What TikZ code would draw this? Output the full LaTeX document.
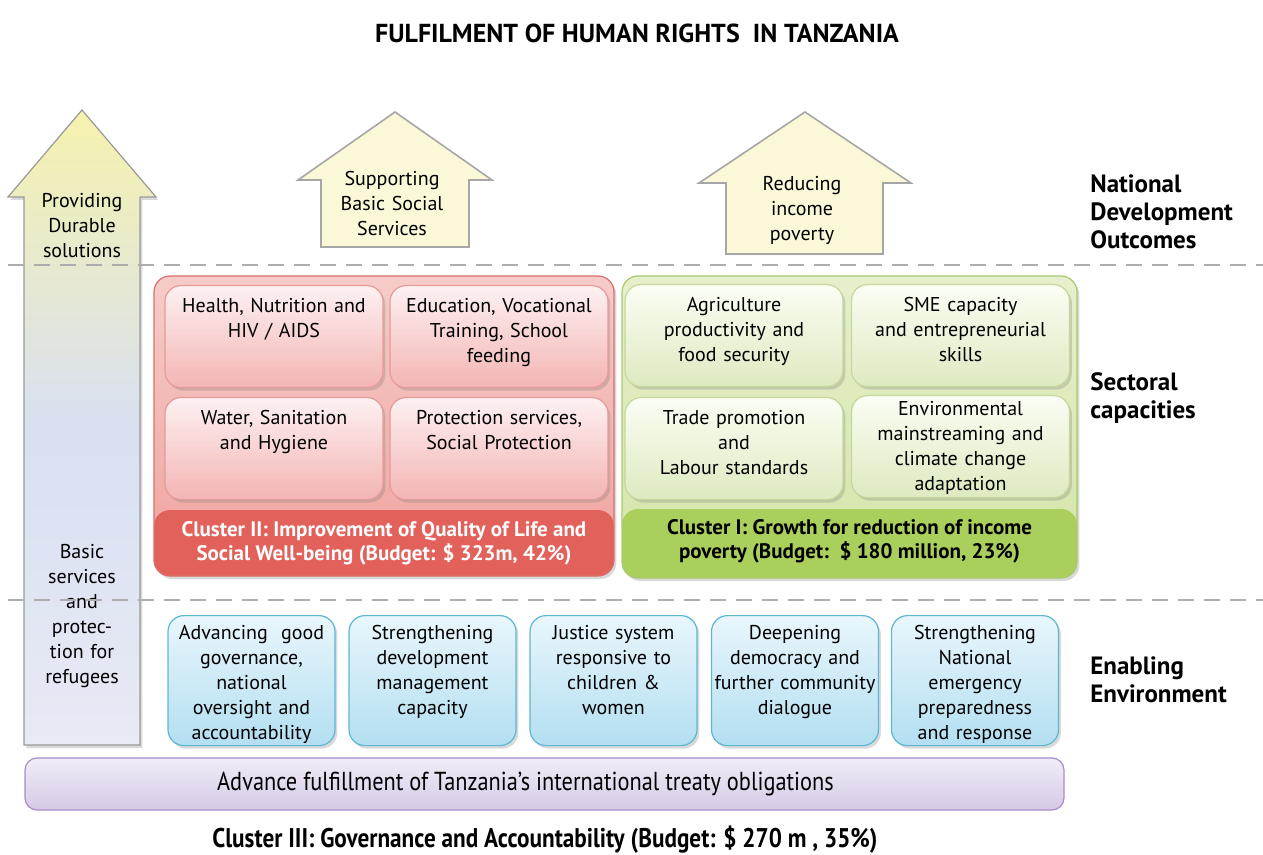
\documentclass[tikz,border=0pt]{standalone}
\usepackage{fontspec}
\setmainfont{PT Sans}
\newfontfamily\condfont[FakeStretch=0.86]{PT Sans}
\usetikzlibrary{positioning}
\usetikzlibrary{shadows}

\definecolor{clIIband}{HTML}{E2615A}
\definecolor{clIItop}{HTML}{F6CCC8}
\definecolor{clIIbot}{HTML}{EFA29D}
\definecolor{clIIline}{HTML}{D9706A}
\definecolor{cellIItop}{HTML}{FDF1F1}
\definecolor{cellIIbot}{HTML}{F4B4B4}
\definecolor{cellIIline}{HTML}{E59B99}
\definecolor{clIband}{HTML}{AACF5C}
\definecolor{clItop}{HTML}{E6EFCB}
\definecolor{clIbot}{HTML}{D3E5A8}
\definecolor{clIline}{HTML}{A9C870}
\definecolor{cellItop}{HTML}{FBFDF4}
\definecolor{cellIbot}{HTML}{DDEAC0}
\definecolor{cellIline}{HTML}{C3D89A}
\definecolor{envtop}{HTML}{E9F6FC}
\definecolor{envbot}{HTML}{B3DFF1}
\definecolor{envline}{HTML}{5DB7D3}
\definecolor{trtytop}{HTML}{F1EDF7}
\definecolor{trtybot}{HTML}{D6C9E6}
\definecolor{trtyline}{HTML}{A88DC8}
\definecolor{upfill}{HTML}{FBF8D8}
\definecolor{upline}{HTML}{A6A6A6}
\definecolor{sidetop}{HTML}{F6F2AE}
\definecolor{sidemid}{HTML}{D8E0F1}
\definecolor{sidebot}{HTML}{E8EAF5}

\begin{document}
\begin{tikzpicture}[
        x=0.5pt, y=-0.5pt,
        font=\fontsize{10}{12.5}\selectfont,
        boxshadow/.style = {drop shadow={shadow xshift=1.2pt, shadow yshift=-1.5pt, opacity=0.3}},
        cell/.style = {rounded corners=8pt, anchor=north, align=center, line width=0.6pt,
                minimum width=109pt, text width=105pt, inner xsep=2pt, inner ysep=6pt,
                text height=7.5pt, text depth=31.5pt, boxshadow},
        redcell/.style = {cell, draw=cellIIline, top color=cellIItop, bottom color=cellIIbot},
        greencell/.style = {cell, draw=cellIline, top color=cellItop, bottom color=cellIbot},
        bluecell/.style = {cell, draw=envline, top color=envtop, bottom color=envbot,
                minimum width=83.5pt, text width=81.5pt, inner xsep=1pt, inner ysep=4.5pt,
                text depth=48.5pt},
        cluster/.style 2 args = {rounded corners=8pt, line width=0.6pt, boxshadow,
                path picture={\fill[#1] (path picture bounding box.south west)
                    rectangle ([yshift=#2]path picture bounding box.south east);}},
        bandtext/.style = {align=center, font=\bfseries\fontsize{10.5}{12}\selectfont},
        upshape/.style = {fill=upfill, draw=upline, line width=0.8pt},
        uptext/.style = {anchor=north, align=center, inner sep=0pt, text height=7.5pt,
                text width=70pt},
        sidelabel/.style = {anchor=north west, align=left, inner sep=0pt, text height=8.5pt,
                text width=85pt, font=\bfseries\fontsize{12.5}{14}\selectfont},
        divider/.style = {draw=black!32, line width=1pt, dash pattern=on 8pt off 5pt}
    ]
    \useasboundingbox (0,0) rectangle (1263,855);

    \node[font=\bfseries\fontsize{13}{15}\selectfont] (title) at (637,33)
        {FULFILMENT OF HUMAN RIGHTS\ \ IN TANZANIA};

    \draw[top color=sidetop, bottom color=sidebot, middle color=sidemid, draw=black!40,
            line width=0.6pt, boxshadow]
        (24,745) -- (24,197) -- (8,197) -- (82,110) -- (156,197) -- (140,197) -- (140,745) -- cycle;
    \node[uptext] (durable) at (82,192) {Providing\\Durable\\solutions};
    \node[uptext] (refugees) at (82,543) {Basic\\services\\and\\protec-\\tion for\\refugees};

    \draw[upshape] (321,247) -- (321,180) -- (298,180) -- (395,112) -- (492,180) -- (469,180) -- (469,247) -- cycle;
    \node[uptext] (social) at (392,170) {Supporting\\Basic Social\\Services};

    \draw[upshape] (726,254) -- (726,183) -- (699,183) -- (805,112) -- (911,183) -- (883,183) -- (883,254) -- cycle;
    \node[uptext] (income) at (802,175) {Reducing\\income\\poverty};

    \node[sidelabel] (outcomes) at (1090,175) {National\\Development\\Outcomes};
    \node[sidelabel] (sectoral) at (1090,373) {Sectoral\\capacities};
    \node[sidelabel] (enabling) at (1090,657) {Enabling\\Environment};

    \draw[divider] (8,265) -- (1263,265);
    \draw[divider] (8,600) -- (1263,600);

    \node[cluster={clIIband}{33pt}, minimum width=230pt, minimum height=150pt,
        top color=clIItop, bottom color=clIIbot, draw=clIIline] (clII) at (384,426) {};
    \node[redcell] (health) at (274,285) {Health, Nutrition and\\HIV / AIDS};
    \node[redcell] (educ) at (499,285) {Education, Vocational\\Training, School\\feeding};
    \node[redcell] (water) at (274,397) {Water, Sanitation\\and Hygiene};
    \node[redcell] (protect) at (499,397) {Protection services,\\Social Protection};
    \node[bandtext, text=white] (clIIlabel) at ([yshift=16.5pt]clII.south)
        {Cluster II: Improvement of Quality of Life and\\Social Well-being (Budget: \$ 323m, 42\%)};

    \node[cluster={clIband}{34.5pt}, minimum width=227.5pt, minimum height=151pt,
        top color=clItop, bottom color=clIbot, draw=clIline] (clI) at (849.5,427) {};
    \node[greencell] (agri) at (734,284) {Agriculture\\productivity and\\food security};
    \node[greencell] (sme) at (960.5,284) {SME capacity\\and entrepreneurial\\skills};
    \node[greencell] (trade) at (734,397) {Trade promotion\\and\\Labour standards};
    \node[greencell, inner ysep=2.5pt, text depth=38.5pt] (climate) at (960.5,395)
        {Environmental\\mainstreaming and\\climate change\\adaptation};
    \node[bandtext] (clIlabel) at ([yshift=18.5pt]clI.south)
        {Cluster I: Growth for reduction of income\\poverty (Budget:\ \ \$ 180 million, 23\%)};

    \node[bluecell] (govern) at (251.5,615) {Advancing\ \ good\\governance,\\national\\oversight and\\accountability};
    \node[bluecell] (devmgmt) at (432.5,615) {Strengthening\\development\\management\\capacity};
    \node[bluecell] (justice) at (613.5,615) {Justice system\\responsive to\\children \&\\women};
    \node[bluecell] (democ) at (795,615) {Deepening\\democracy and\\further community\\dialogue};
    \node[bluecell] (emerg) at (975,615) {Strengthening\\National\\emergency\\preparedness\\and response};

    \node[rounded corners=6pt, draw=trtyline, line width=0.6pt, top color=trtytop, bottom color=trtybot,
        minimum width=519.5pt, minimum height=26pt, font=\condfont\fontsize{13}{15}\selectfont]
        (treaty) at (544.5,784) {\hspace*{-19pt}Advance fulfillment of Tanzania’s international treaty obligations};

    \node[font=\condfont\bfseries\fontsize{13.5}{15}\selectfont] (clIIIlabel) at (545,840)
        {Cluster III: Governance and Accountability (Budget: \$ 270 m , 35\%)};
\end{tikzpicture}
\end{document}
